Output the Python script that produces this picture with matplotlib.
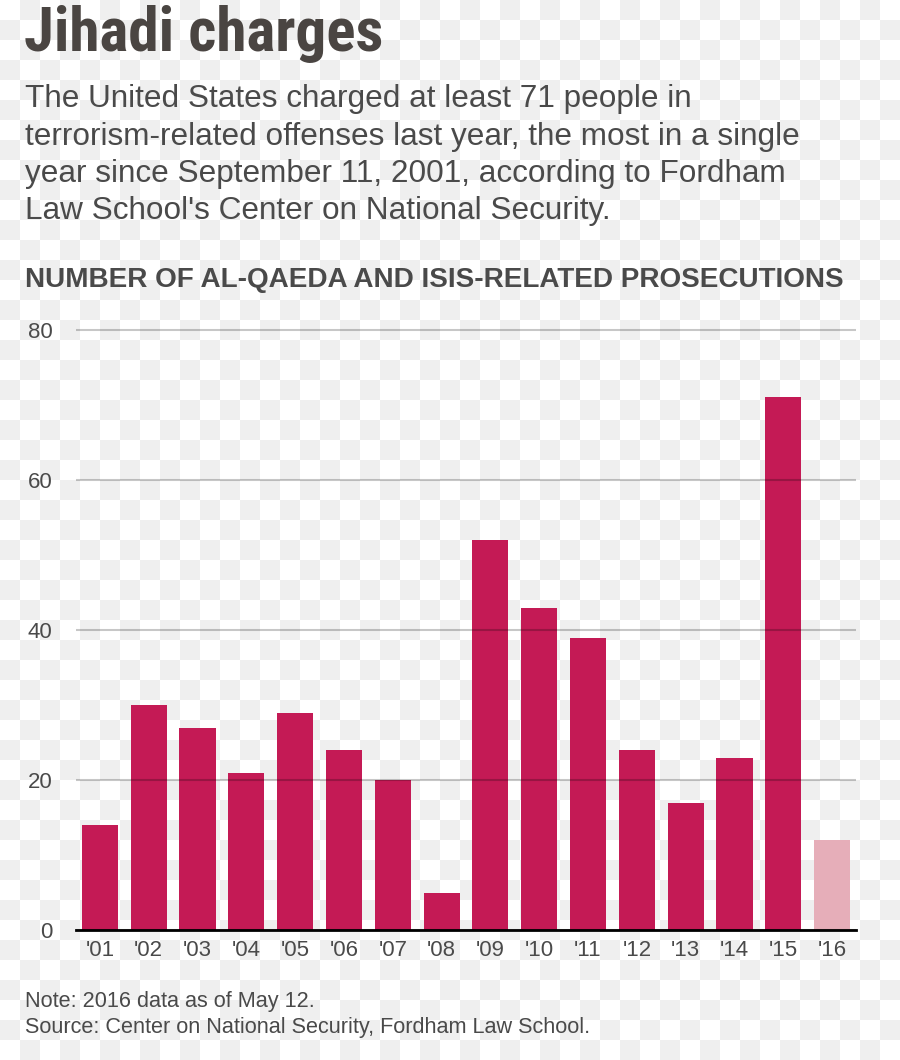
import numpy as np
import matplotlib.pyplot as plt

years = ["'01", "'02", "'03", "'04", "'05", "'06", "'07", "'08",
         "'09", "'10", "'11", "'12", "'13", "'14", "'15", "'16"]
prosecutions = [14, 30, 27, 21, 29, 24, 20, 5, 52, 43, 39, 24, 17, 23, 71, 12]
partial_year = "'16"

title = "Jihadi charges"
subtitle = ["The United States charged at least 71 people in",
            "terrorism-related offenses last year, the most in a single",
            "year since September 11, 2001, according to Fordham",
            "Law School's Center on National Security."]
header = "NUMBER OF AL-QAEDA AND ISIS-RELATED PROSECUTIONS"
notes = ["Note: 2016 data as of May 12.",
         "Source: Center on National Security, Fordham Law School."]

W, H = 900, 1060
txt = '#4a4a4a'
sans = ['Liberation Sans', 'DejaVu Sans']

fig = plt.figure(figsize=(W / 100, H / 100), dpi=100)

# checkerboard backdrop (transparent-png look)
yy, xx = np.indices((H, W))
odd = ((xx // 20 + yy // 20) % 2)[..., None]
board = np.where(odd == 1, 0xef / 255, 1.0) * np.ones(3)
fig.figimage(board, 0, 0, origin='upper', zorder=-5)


def fy(px):
    return 1 - px / H


ax = fig.add_axes([76 / W, 130 / H, 780 / W, 80.3 * 7.5 / H])
ax.set_zorder(1)
ax.patch.set_visible(False)

colors = ['#e6aeb9' if y == partial_year else '#c41a55' for y in years]
ax.bar(np.arange(len(years)), prosecutions, width=0.74, color=colors, zorder=1)

ax.set_xlim(-0.49, len(years) - 0.51)
ax.set_ylim(0, 80.3)
ax.set_yticks([0, 20, 40, 60, 80])
ax.set_xticks(np.arange(len(years)))
ax.set_xticklabels(years)
ax.set_axisbelow(False)
ax.grid(axis='y', color='black', alpha=0.22, lw=1.5)
for s in ['top', 'left', 'right']:
    ax.spines[s].set_visible(False)
ax.spines['bottom'].set_color('black')
ax.spines['bottom'].set_linewidth(2)
ax.tick_params(axis='both', length=0, labelsize=16, labelcolor=txt)
ax.tick_params(axis='x', pad=7)
ax.tick_params(axis='y', pad=17)
for lab in ax.get_xticklabels() + ax.get_yticklabels():
    lab.set_family(sans)

fig.text(24 / W, fy(51), title, fontsize=44, fontweight='bold',
         family=['Roboto Condensed', 'DejaVu Sans'], color='#4a4542',
         va='baseline')
for i, line in enumerate(subtitle):
    fig.text(25 / W, fy(107 + 37.5 * i), line, fontsize=22.7, family=sans,
             color=txt, va='baseline')
fig.text(25 / W, fy(287), header, fontsize=20.1, fontweight='bold',
         family=sans, color=txt, va='baseline')
for i, line in enumerate(notes):
    fig.text(25 / W, fy(1007 + 26.5 * i), line, fontsize=15.6, family=sans,
             color=txt, va='baseline')

fig.savefig('out.png', dpi=100)
